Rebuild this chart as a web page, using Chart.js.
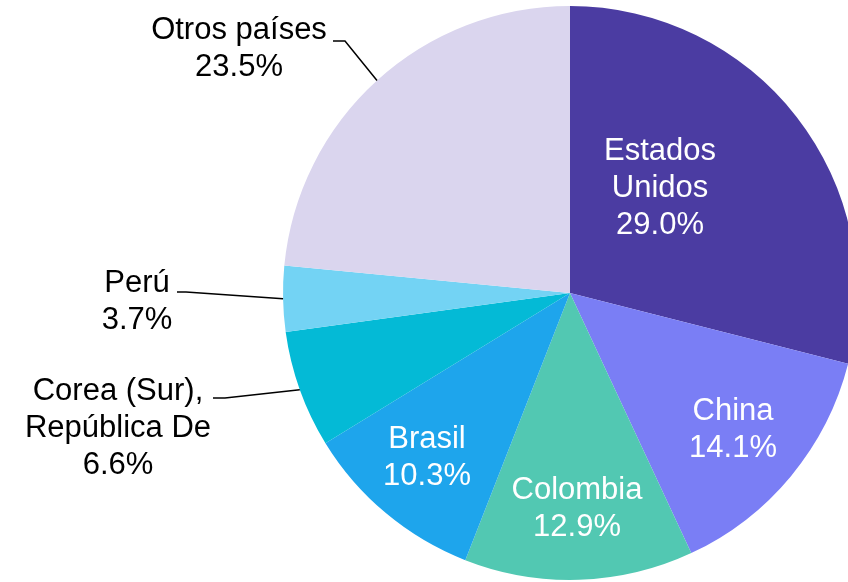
<!DOCTYPE html>
<html>
<head>
<meta charset="utf-8">
<script src="https://cdn.jsdelivr.net/npm/chart.js@4"></script>
<style>
  html, body { margin: 0; padding: 0; background: #fff; overflow: hidden; width: 848px; height: 582px; }
  #wrap { position: absolute; left: 0; top: 0; width: 880px; height: 582px; }
</style>
</head>
<body>
<div id="wrap"><canvas id="pie" width="880" height="582"></canvas></div>
<script>
// data
const countries = [
  ['Estados', 'Unidos'],
  ['China'],
  ['Colombia'],
  ['Brasil'],
  ['Corea (Sur),', 'República De'],
  ['Perú'],
  ['Otros países']
]
const shares = [29.0, 14.1, 12.9, 10.3, 6.6, 3.7, 23.5]
const sliceColors = ['#4b3ca2', '#7a7ef5', '#52c8b2', '#1ea5ec', '#04bad6', '#73d3f4', '#dad5ee']

// label placement, offsets from pie center (px)
const labelOffsets = [[90, -107], [163, 135], [7, 214], [-143, 163], [-452, 133], [-433, 7], [-331, -246]]
const outsideLabel = [false, false, false, false, true, true, true]
// leader line: where it leaves the text (offset from center) and an elbow
const leaders = [null, null, null, null,
  {from: [-357, 105], elbow: [-345, 105]},
  {from: [-393, -1], elbow: [-384, -1]},
  {from: [-237, -252], elbow: [-225, -252]}]

const pieLabels = {
  id: 'pieLabels',
  afterDatasetsDraw(chart) {
    const ctx = chart.ctx
    const arcs = chart.getDatasetMeta(0).data
    ctx.save()
    arcs.forEach((arc, i) => {
      const cx = arc.x, cy = arc.y
      const lines = countries[i].concat([shares[i].toFixed(1) + '%'])
      const lh = 37
      const [ox, oy] = labelOffsets[i]
      ctx.font = '31px "Liberation Sans", Arial, sans-serif'
      ctx.textAlign = 'center'
      ctx.textBaseline = 'middle'
      ctx.fillStyle = outsideLabel[i] ? '#000' : '#fff'
      const top = cy + oy + 2 - (lines.length - 1) * lh / 2
      lines.forEach((t, k) => ctx.fillText(t, cx + ox, top + k * lh))

      const ld = leaders[i]
      if (ld) {
        const mid = (arc.startAngle + arc.endAngle) / 2
        const ex = cx + Math.cos(mid) * arc.outerRadius
        const ey = cy + Math.sin(mid) * arc.outerRadius
        ctx.strokeStyle = '#000'
        ctx.lineWidth = 1.5
        ctx.beginPath()
        ctx.moveTo(cx + ld.from[0], cy + ld.from[1])
        ctx.lineTo(cx + ld.elbow[0], cy + ld.elbow[1])
        ctx.lineTo(ex, ey)
        ctx.stroke()
      }
    })
    ctx.restore()
  }
}

new Chart(document.getElementById('pie'), {
  type: 'pie',
  data: {
    labels: countries.map(c => c.join(' ')),
    datasets: [{
      data: shares,
      backgroundColor: sliceColors,
      borderWidth: 0
    }]
  },
  options: {
    responsive: false,
    animation: false,
    layout: { padding: { left: 283, right: 23, top: 6, bottom: 2 } },
    plugins: {
      legend: { display: false },
      tooltip: { enabled: false }
    }
  },
  plugins: [pieLabels]
})
</script>
</body>
</html>
